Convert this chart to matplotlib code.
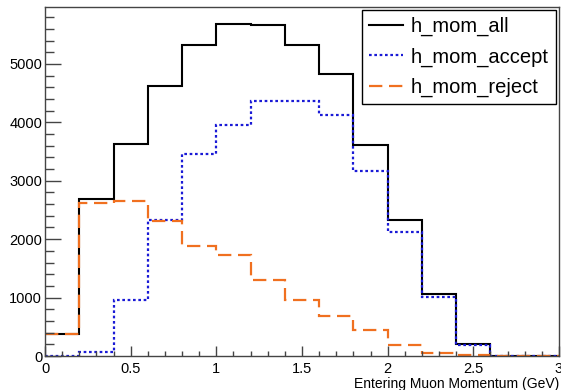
import numpy as np
import matplotlib
matplotlib.use("Agg")
from matplotlib import pyplot as plt
from matplotlib.ticker import MultipleLocator, FuncFormatter

# momentum bins (GeV)
bin_edges = [0.0, 0.2, 0.4, 0.6, 0.8, 1.0, 1.2, 1.4, 1.6, 1.8, 2.0, 2.2, 2.4, 2.6, 2.8, 3.0]

h_mom_all = [370, 2690, 3625, 4615, 5330, 5690, 5675, 5325, 4820, 3605, 2335, 1065, 200, 8, 4]
h_mom_accept = [5, 60, 960, 2330, 3450, 3955, 4365, 4360, 4130, 3170, 2125, 1005, 190, 2, 1]
h_mom_reject = [370, 2625, 2660, 2305, 1885, 1735, 1295, 960, 690, 445, 190, 58, 14, 7, 4]

labels = ["h_mom_all", "h_mom_accept", "h_mom_reject"]

plt.rcParams['font.family'] = ['Liberation Sans', 'DejaVu Sans']

fig = plt.figure(figsize=(5.61, 3.9), dpi=100)
ax = fig.add_axes([45 / 561, 1 - 356 / 390, 514 / 561, 349 / 390])

ax.stairs(h_mom_all, bin_edges, baseline=None, color="black", lw=1.5,
          label=labels[0])
ax.stairs(h_mom_accept, bin_edges, baseline=None, color="#1a1ad6", lw=1.6,
          linestyle=(0, (1.2, 1.2)), label=labels[1])
ax.stairs(h_mom_reject, bin_edges, baseline=None, color="#f07020", lw=1.6,
          linestyle=(0, (6, 3)), label=labels[2])

ax.set_xlim(0, 3)
ax.set_ylim(0, 5975)

# ROOT-like axes
for s in ax.spines.values():
    s.set_color("#444444")
    s.set_linewidth(1.0)
ax.xaxis.set_major_locator(MultipleLocator(0.5))
ax.xaxis.set_minor_locator(MultipleLocator(0.1))
ax.yaxis.set_major_locator(MultipleLocator(1000))
ax.yaxis.set_minor_locator(MultipleLocator(200))
ax.xaxis.set_major_formatter(FuncFormatter(lambda v, p: "%g" % v))
ax.tick_params(axis="x", which="major", direction="in", length=7.2, width=1,
               color="#444444", labelsize=10.5, pad=4)
ax.tick_params(axis="x", which="minor", direction="in", length=3.6, width=1,
               color="#444444")
ax.tick_params(axis="y", which="major", direction="in", length=11.5, width=1,
               color="#444444", labelsize=10.5, pad=2)
ax.tick_params(axis="y", which="minor", direction="in", length=6.5, width=1,
               color="#444444")

ax.set_xlabel("Entering Muon Momentum (GeV)", fontsize=10, loc="right", labelpad=1)

leg = ax.legend(loc="upper right", bbox_to_anchor=(0.994, 0.991), fontsize=14.5,
                fancybox=False, framealpha=1, edgecolor="black",
                handlelength=1.7, handletextpad=0.4, borderpad=0.35,
                labelspacing=0.55, borderaxespad=0)
leg.get_frame().set_linewidth(1.0)

fig.savefig("out.png", dpi=100)
